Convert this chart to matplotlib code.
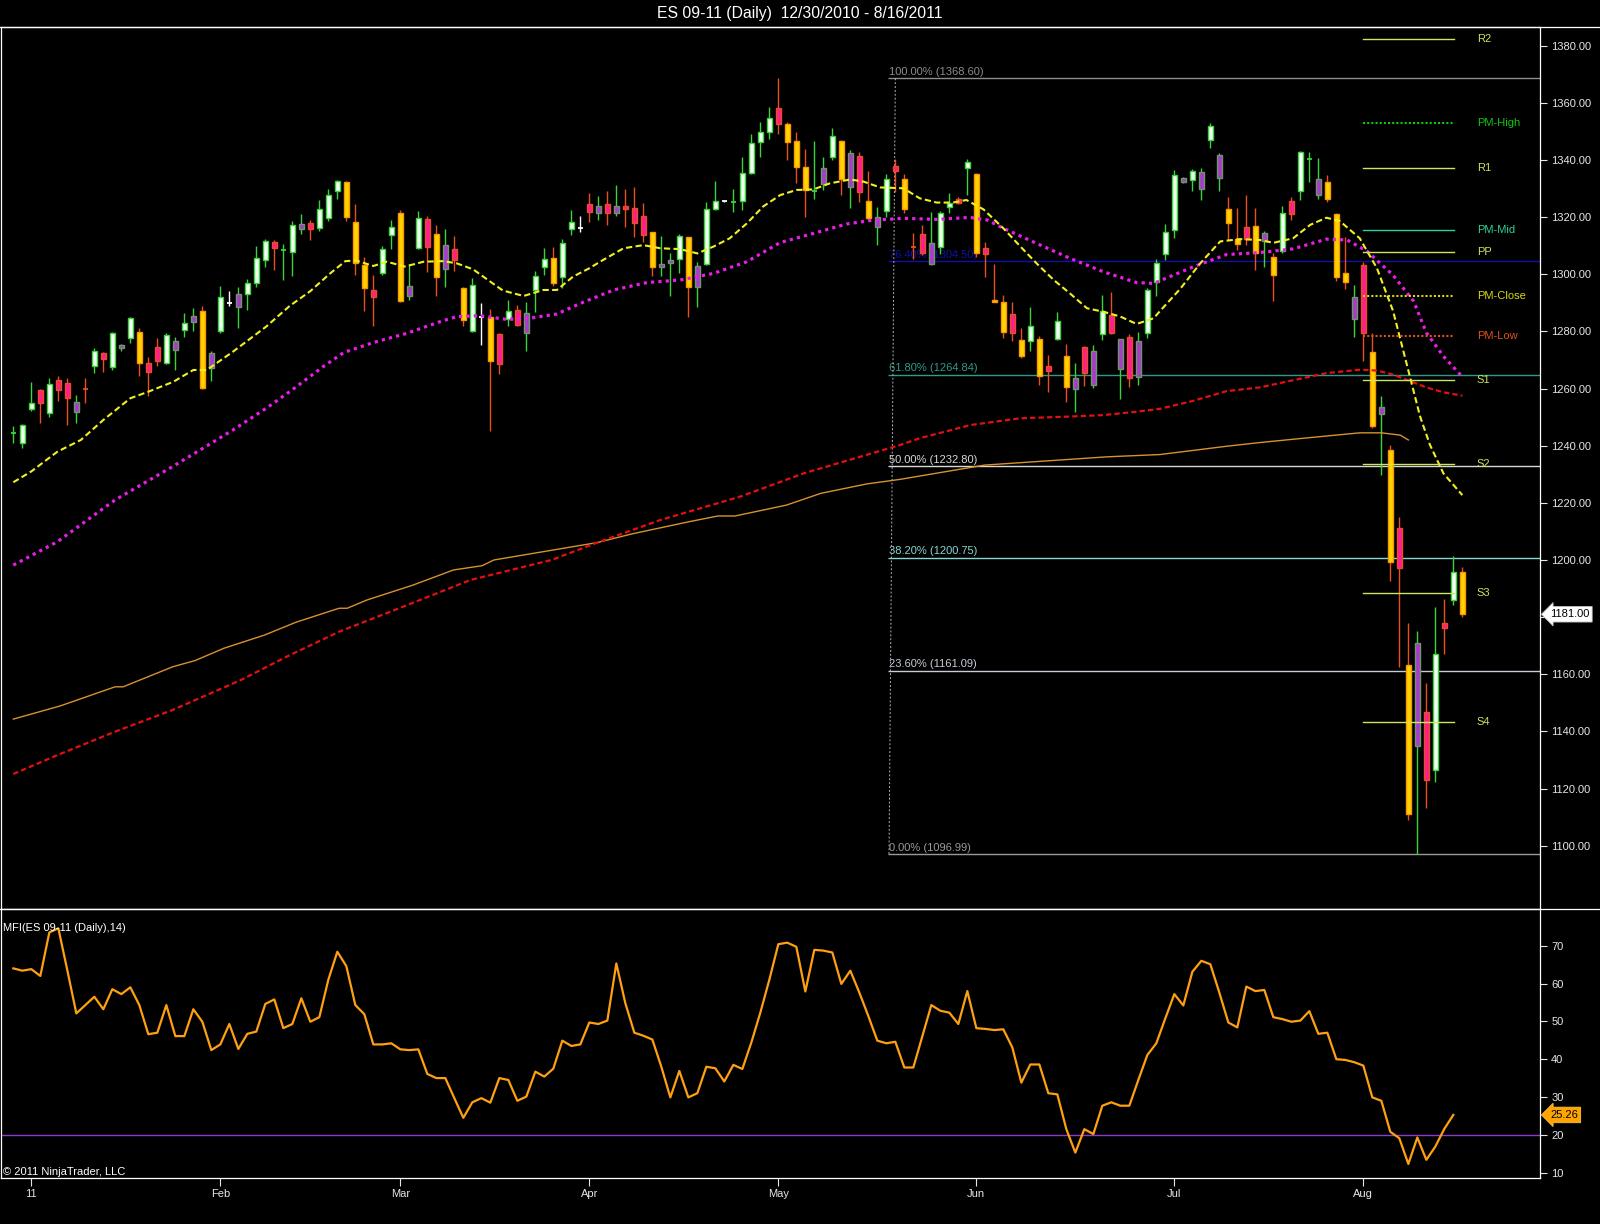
import matplotlib
matplotlib.use('Agg')
import matplotlib.pyplot as plt
from matplotlib.lines import Line2D
import numpy as np

plt.rcParams['font.family'] = ['Liberation Sans', 'DejaVu Sans']

title = 'ES 09-11 (Daily)  12/30/2010 - 8/16/2011'

# daily bars, 12/30/2010 .. 8/16/2011 (one entry per bar)
opens = [1244.3, 1240.8, 1253.0, 1259.5, 1251.6, 1263.0, 1261.8, 1251.9, 1259.8, 1267.9,
         1272.3, 1267.7, 1274.1, 1277.6, 1279.9, 1268.8, 1274.7, 1268.8, 1273.5, 1280.5,
         1283.2, 1287.3, 1267.1, 1280.3, 1289.8, 1288.4, 1293.0, 1297.1, 1305.0, 1311.4,
         1308.5, 1307.9, 1315.7, 1318.1, 1316.1, 1319.8, 1329.3, 1332.4, 1318.2, 1303.2,
         1294.5, 1300.3, 1313.6, 1321.3, 1292.5, 1309.3, 1319.2, 1314.1, 1301.7, 1308.7,
         1295.3, 1280.1, 1285.2, 1284.9, 1279.1, 1284.2, 1287.5, 1279.3, 1294.5, 1302.4,
         1305.8, 1298.9, 1315.7, 1316.3, 1324.6, 1321.6, 1324.6, 1321.6, 1324.0, 1323.1,
         1320.4, 1314.7, 1302.7, 1303.8, 1305.2, 1312.9, 1295.4, 1303.5, 1322.8, 1325.6,
         1325.4, 1325.6, 1335.6, 1346.2, 1349.7, 1358.1, 1352.5, 1346.6, 1337.7, 1329.3,
         1331.5, 1341.2, 1346.6, 1330.4, 1341.4, 1325.6, 1316.4, 1322.1, 1337.9, 1333.2,
         1309.4, 1314.0, 1303.6, 1309.4, 1323.4, 1326.4, 1337.1, 1335.0, 1309.1, 1290.9,
         1290.2, 1286.1, 1277.0, 1276.8, 1277.2, 1267.9, 1277.3, 1271.5, 1259.7, 1274.4,
         1261.2, 1279.1, 1285.7, 1266.7, 1277.9, 1263.9, 1279.3, 1297.4, 1307.0, 1315.6,
         1332.4, 1332.9, 1329.9, 1346.9, 1333.6, 1322.7, 1312.3, 1316.5, 1316.8, 1311.8,
         1306.1, 1308.1, 1325.7, 1329.0, 1340.4, 1327.7, 1332.4, 1321.0, 1300.6, 1284.2,
         1303.1, 1272.9, 1251.2, 1238.6, 1211.3, 1163.3, 1134.8, 1146.9, 1126.4, 1177.9,
         1185.9, 1195.9]
highs = [1246.9, 1247.5, 1262.4, 1259.7, 1263.6, 1264.4, 1263.6, 1257.7, 1263.6, 1274.1,
         1272.9, 1279.9, 1275.6, 1285.2, 1281.1, 1271.2, 1277.6, 1279.3, 1278.1, 1286.6,
         1288.1, 1289.0, 1273.3, 1295.9, 1294.1, 1295.4, 1298.3, 1309.9, 1312.2, 1312.0,
         1310.6, 1318.6, 1321.1, 1319.0, 1326.0, 1329.7, 1333.0, 1332.8, 1324.6, 1306.2,
         1299.7, 1309.9, 1319.0, 1322.5, 1303.6, 1322.3, 1320.4, 1317.2, 1315.7, 1313.4,
         1295.7, 1298.6, 1289.8, 1287.7, 1279.6, 1291.0, 1289.2, 1290.4, 1301.3, 1309.1,
         1309.6, 1312.2, 1322.5, 1320.4, 1328.3, 1327.4, 1329.1, 1331.2, 1329.7, 1330.7,
         1324.8, 1314.9, 1313.4, 1307.6, 1314.1, 1313.2, 1304.4, 1325.2, 1332.8, 1325.8,
         1329.7, 1340.9, 1349.1, 1353.2, 1358.7, 1368.6, 1353.2, 1349.7, 1343.7, 1346.6,
         1340.9, 1351.1, 1347.0, 1343.5, 1342.9, 1336.1, 1323.7, 1335.0, 1340.2, 1335.1,
         1314.3, 1317.2, 1321.9, 1322.3, 1328.3, 1327.2, 1340.2, 1335.6, 1311.4, 1303.6,
         1292.7, 1290.2, 1281.1, 1288.7, 1278.5, 1271.7, 1286.9, 1275.6, 1269.0, 1274.9,
         1275.2, 1292.7, 1293.7, 1277.3, 1279.1, 1279.9, 1295.1, 1305.2, 1317.6, 1336.6,
         1334.1, 1336.9, 1337.1, 1352.8, 1342.4, 1327.0, 1323.2, 1327.7, 1323.2, 1315.3,
         1307.3, 1324.0, 1326.9, 1343.3, 1342.8, 1340.7, 1334.9, 1321.5, 1313.1, 1296.4,
         1304.3, 1279.6, 1257.5, 1240.3, 1214.9, 1177.8, 1175.0, 1156.9, 1183.4, 1186.4,
         1201.5, 1197.6]
lows = [1240.9, 1239.1, 1252.3, 1247.8, 1250.2, 1255.8, 1247.2, 1247.8, 1255.1, 1265.6,
        1265.9, 1266.5, 1273.3, 1276.1, 1264.4, 1257.4, 1268.0, 1268.6, 1266.5, 1277.9,
        1280.3, 1259.7, 1262.8, 1279.3, 1289.0, 1281.1, 1287.5, 1295.7, 1302.7, 1301.5,
        1298.0, 1299.4, 1314.1, 1312.0, 1315.3, 1318.8, 1326.2, 1318.8, 1299.7, 1287.3,
        1282.0, 1299.7, 1309.0, 1290.3, 1291.0, 1308.7, 1300.9, 1292.4, 1295.7, 1301.3,
        1282.0, 1279.9, 1275.2, 1245.2, 1265.1, 1281.9, 1281.9, 1273.3, 1286.9, 1299.7,
        1295.9, 1295.1, 1313.7, 1314.9, 1318.4, 1319.0, 1317.2, 1320.4, 1316.7, 1313.2,
        1311.4, 1299.4, 1299.4, 1292.4, 1300.3, 1284.9, 1288.4, 1303.2, 1322.5, 1325.4,
        1321.9, 1322.5, 1335.0, 1340.9, 1347.3, 1349.1, 1340.0, 1331.8, 1319.9, 1326.2,
        1329.5, 1340.0, 1327.7, 1323.3, 1325.4, 1319.0, 1310.2, 1319.9, 1328.9, 1321.6,
        1305.2, 1306.7, 1303.2, 1307.1, 1321.6, 1324.6, 1327.7, 1305.9, 1298.9, 1290.2,
        1277.6, 1276.8, 1270.6, 1273.2, 1261.2, 1258.9, 1277.0, 1255.4, 1251.9, 1260.9,
        1260.1, 1277.0, 1279.1, 1256.2, 1260.7, 1261.2, 1277.6, 1292.5, 1305.0, 1312.6,
        1332.0, 1329.0, 1326.0, 1344.1, 1329.0, 1311.9, 1308.6, 1310.3, 1301.4, 1302.6,
        1290.5, 1307.3, 1319.0, 1326.0, 1332.4, 1326.5, 1325.3, 1297.6, 1295.0, 1278.0,
        1269.6, 1246.2, 1229.9, 1192.6, 1162.5, 1108.9, 1097.0, 1113.1, 1122.3, 1167.1,
        1184.2, 1180.0]
closes = [1244.3, 1247.2, 1255.1, 1255.1, 1261.6, 1259.5, 1256.8, 1255.2, 1259.8, 1273.3,
          1270.5, 1279.6, 1275.2, 1284.8, 1268.8, 1265.9, 1269.8, 1278.7, 1276.8, 1283.1,
          1285.5, 1260.1, 1272.3, 1291.9, 1289.8, 1293.0, 1297.1, 1305.6, 1311.6, 1309.1,
          1308.5, 1317.2, 1317.6, 1315.8, 1322.7, 1327.6, 1332.8, 1319.9, 1303.8, 1295.1,
          1291.9, 1308.7, 1316.4, 1290.8, 1295.9, 1319.6, 1309.7, 1298.9, 1310.2, 1305.0,
          1284.0, 1296.2, 1285.2, 1269.8, 1268.6, 1287.3, 1282.2, 1286.6, 1299.5, 1305.2,
          1296.8, 1310.8, 1318.2, 1316.3, 1321.9, 1323.9, 1321.6, 1323.9, 1323.0, 1318.1,
          1313.7, 1302.7, 1303.6, 1305.0, 1313.4, 1295.4, 1303.0, 1322.7, 1325.5, 1325.6,
          1325.4, 1335.6, 1345.8, 1349.7, 1354.6, 1352.5, 1346.4, 1337.7, 1329.5, 1329.3,
          1337.1, 1348.4, 1333.2, 1342.3, 1328.9, 1319.8, 1319.9, 1333.2, 1336.2, 1322.9,
          1309.4, 1307.5, 1311.1, 1321.3, 1325.1, 1325.1, 1339.2, 1307.5, 1307.1, 1290.2,
          1279.7, 1279.3, 1271.5, 1282.0, 1264.4, 1266.3, 1283.7, 1260.4, 1263.6, 1265.3,
          1273.1, 1287.1, 1279.3, 1277.2, 1263.6, 1276.8, 1294.5, 1303.8, 1314.7, 1334.9,
          1333.6, 1336.1, 1335.7, 1352.0, 1341.6, 1318.1, 1310.6, 1312.3, 1307.3, 1314.3,
          1299.7, 1321.5, 1321.2, 1342.8, 1340.4, 1333.2, 1326.2, 1299.2, 1297.2, 1292.2,
          1279.3, 1247.0, 1253.7, 1199.3, 1197.1, 1111.1, 1170.8, 1123.1, 1167.1, 1176.3,
          1195.9, 1181.0]
# bar colour class: W white-up, P purple-up, M magenta-down, Y gold-down, G/R/D doji
kinds = list('GWWMWMMPRW' 'MWPWYMMWPW' 'PYPWDPWWWM' 'GWPMWWWYYY' 'MWWYPWMYPM'
             'YWDYMWMPWW' 'YWWDMPMPMM' 'MYPPWYPWWD' 'GWWWWMYYYG' 'PWYPMYPWMY'
             'RMPWWMWYMY' 'YMYWYMWYPM' 'PWMPMPWWWW' 'PWPWPYYMYP' 'YWMWGPYYYP'
             'MYPYMYPMWM' 'WY')

mfi = [64.0, 63.4, 63.8, 62.0, 73.5, 74.6, 63.5, 52.1, 54.3, 56.5,
       53.2, 58.5, 57.2, 59.0, 54.3, 46.6, 47.0, 54.3, 46.1, 46.1,
       53.2, 49.9, 42.4, 43.9, 49.3, 42.7, 46.7, 47.3, 54.6, 55.8,
       48.2, 49.3, 56.1, 49.9, 51.1, 61.0, 68.4, 64.6, 54.3, 51.9,
       43.9, 43.9, 44.2, 42.6, 42.4, 42.6, 36.1, 35.0, 35.0, 29.7,
       24.5, 28.6, 29.7, 28.5, 35.0, 34.5, 29.0, 30.1, 36.7, 35.4,
       37.5, 44.9, 43.5, 43.9, 49.7, 49.3, 50.2, 65.3, 54.8, 47.0,
       46.2, 45.2, 38.0, 29.9, 36.9, 29.9, 31.0, 38.0, 37.6, 34.1,
       38.5, 37.4, 44.4, 52.3, 61.0, 70.4, 70.8, 69.7, 57.9, 68.9,
       68.7, 68.2, 59.9, 63.4, 57.6, 51.4, 44.9, 44.2, 44.6, 37.8,
       37.8, 46.0, 54.3, 52.8, 52.3, 49.3, 58.0, 48.2, 48.0, 47.7,
       47.9, 43.1, 33.8, 38.6, 38.6, 31.0, 30.7, 21.5, 15.3, 21.5,
       20.2, 27.7, 28.6, 27.7, 27.7, 34.5, 41.1, 44.2, 50.8, 57.2,
       54.2, 63.1, 66.0, 65.1, 57.6, 49.7, 48.4, 59.2, 58.0, 58.3,
       51.1, 50.6, 49.9, 50.2, 52.7, 46.7, 47.0, 40.0, 39.8, 39.2,
       38.3, 29.9, 29.0, 20.8, 19.1, 12.3, 19.3, 13.4, 16.9, 21.6,
       25.26]
mfi_last = 25.26
last_price = 1181.00

month_labels = ['11', 'Feb', 'Mar', 'Apr', 'May', 'Jun', 'Jul', 'Aug']
month_bars = [2, 23, 43, 64, 85, 107, 129, 150]

# moving averages at bar positions
fast_x = [0, 2, 4.9, 7.5, 10, 13, 15, 17.8, 20, 21.5, 24.4, 28.1, 30.7, 33, 35.2, 36.9,
          38.1, 40, 41.5, 43.5, 45.6, 47.8, 49.3, 51.1, 53, 54.4, 56.7, 58.9, 60.4, 62.2,
          64, 65.2, 67.8, 70, 71.9, 74.1, 76, 77.8, 79.6, 81.5, 83.3, 85.2, 87, 88.9, 90.7,
          93, 94.5, 96.3, 98.9, 100.7, 102.6, 104.4, 105.9, 107.8, 110, 111.9, 113.7,
          115.6, 117.4, 119.3, 121.1, 123, 124.8, 126.7, 127.6, 129.6, 131.9, 134.1,
          136.3, 138.5, 140, 142.2, 144.1, 145.9, 147.4, 149.6, 151.5, 153.3, 154.8,
          156.3, 157.4, 158.9, 161]
fast_y = [1227.2, 1231.0, 1237.9, 1242.0, 1249.0, 1256.6, 1258.9, 1262.4, 1266.5, 1266.5,
          1272.9, 1281.7, 1288.9, 1294.1, 1300.3, 1304.6, 1304.8, 1302.9, 1304.4, 1302.7,
          1304.4, 1304.6, 1303.8, 1301.7, 1297.4, 1294.3, 1292.4, 1294.5, 1294.5, 1299.2,
          1302.1, 1304.4, 1309.1, 1310.2, 1309.1, 1308.8, 1307.3, 1309.7, 1312.6, 1317.8,
          1323.7, 1327.7, 1329.5, 1329.7, 1331.8, 1333.2, 1332.4, 1330.4, 1330.1, 1326.6,
          1325.1, 1325.1, 1326.0, 1322.7, 1316.1, 1309.7, 1303.8, 1298.0, 1293.3, 1288.1,
          1286.9, 1285.2, 1282.6, 1284.6, 1287.8, 1294.7, 1303.9, 1311.5, 1312.3, 1312.0,
          1311.0, 1312.6, 1317.3, 1319.8, 1318.6, 1312.6, 1302.2, 1287.2, 1268.8, 1250.3,
          1240.3, 1230.3, 1222.7]
mid_x = [0, 4.9, 11.3, 17.7, 20.7, 24.4, 28.1, 30.7, 34.4, 36.7, 40, 43.7, 47.4, 49.3,
         51.9, 54.8, 57.4, 60.4, 63, 66.7, 70.4, 74.1, 77.8, 81.5, 85.2, 88.9, 92.6, 95.2,
         98.9, 102.6, 106.3, 108.2, 110, 113.7, 117.4, 121.1, 124.8, 126.7, 131.1, 134.8,
         138.5, 142.2, 145.9, 148.2, 150.4, 153.3, 155.6, 157, 158.9, 161]
mid_y = [1198.2, 1206.4, 1221.0, 1232.7, 1238.4, 1245.5, 1253.1, 1258.9, 1267.6, 1272.6,
         1276.1, 1279.3, 1283.4, 1285.2, 1285.5, 1284.2, 1284.6, 1286.1, 1289.8, 1294.5,
         1297.1, 1298.0, 1300.3, 1304.4, 1311.1, 1314.3, 1317.6, 1318.8, 1319.6, 1319.2,
         1319.9, 1319.0, 1316.1, 1310.8, 1305.6, 1300.9, 1297.1, 1296.8, 1302.6, 1306.9,
         1307.6, 1308.9, 1312.3, 1312.0, 1308.1, 1299.7, 1290.5, 1279.6, 1271.3, 1264.1]
slow_x = [0, 4.9, 11.3, 17.7, 25.3, 30.4, 36.2, 41.9, 50.8, 59.8, 64.9, 71.9, 80.8, 87.8,
          98.5, 100.7, 106.3, 111.9, 117.4, 121.1, 124.8, 127.4, 131.1, 134.8, 138.5,
          142.2, 145.9, 149.6, 151.5, 153.3, 155.2, 157, 158.9, 161]
slow_y = [1125.1, 1131.7, 1139.9, 1147.5, 1158.0, 1166.2, 1174.9, 1181.9, 1193.0, 1200.0,
          1206.1, 1214.0, 1222.2, 1230.3, 1240.2, 1242.6, 1247.2, 1249.6, 1250.2, 1250.7,
          1251.9, 1252.9, 1255.7, 1259.1, 1260.4, 1262.9, 1265.4, 1266.6, 1266.3, 1264.9,
          1262.6, 1260.4, 1258.7, 1257.5]
long_x = [0, 5.2, 11.3, 12.2, 17.7, 20.2, 23.4, 27.9, 31.4, 36.2, 37.1, 39.3, 44.4, 48.9,
          52.1, 53.4, 58.5, 64.9, 68.7, 75.1, 78.3, 80.2, 85.9, 89.7, 94.8, 98.5, 107.9,
          121.5, 127.4, 134.8, 138.5, 143, 149.6, 152, 154.1, 155]
long_y = [1144.3, 1148.9, 1155.6, 1155.6, 1162.6, 1164.8, 1169.1, 1173.7, 1178.2, 1183.1,
          1183.1, 1186.0, 1191.2, 1196.5, 1198.0, 1200.0, 1202.7, 1206.1, 1209.1, 1213.4,
          1215.4, 1215.4, 1219.2, 1223.3, 1226.6, 1228.2, 1233.2, 1236.1, 1236.9, 1239.8,
          1241.1, 1242.5, 1244.5, 1244.5, 1243.7, 1242.0]

fib_pct = ['100.00%', '76.40%', '61.80%', '50.00%', '38.20%', '23.60%', '0.00%']
fib_val = [1368.60, 1304.50, 1264.84, 1232.80, 1200.75, 1161.09, 1096.99]
fib_col = ['#8c8c8c', '#1010a8', '#2f9a8c', '#d8d8d8', '#86d6d2', '#c8ccd8', '#9a9a9a']

pivot_names = ['R2', 'PM-High', 'R1', 'PM-Mid', 'PP', 'PM-Close', 'PM-Low',
               'S1', 'S2', 'S3', 'S4']
pivot_vals = [1382.2, 1352.8, 1337.1, 1315.5, 1307.7, 1292.4, 1278.4,
              1263.0, 1233.6, 1188.3, 1143.4]
pivot_cols = ['#c8e660', '#10c810', '#c8e660', '#30d29a', '#c8e660', '#d8d810', '#e0501a',
              '#c8e660', '#c8e660', '#c8e660', '#c8e660']
pivot_dotted = ['PM-High', 'PM-Close', 'PM-Low']

W, H = 1600, 1224
fig = plt.figure(figsize=(W / 100, H / 100), dpi=100, facecolor='black')
ax = fig.add_axes([1 / W, 1 - 909 / H, 1539 / W, (909 - 27) / H], facecolor='black')
ax2 = fig.add_axes([1 / W, 1 - 1178 / H, 1539 / W, (1178 - 909) / H], facecolor='black',
                   sharex=ax)

n = len(closes)
xs = np.arange(n)

body_fc = {'W': '#f2fff2', 'P': '#a83cc8', 'M': '#ff1e8e', 'Y': '#ffd400'}
body_ec = {'W': '#3cd23c', 'P': '#6e966e', 'M': '#e8501e', 'Y': '#ff9600'}
wick_c = {'W': '#3cd23c', 'P': '#3cd23c', 'G': '#3cd23c',
          'M': '#e8501e', 'Y': '#e8501e', 'R': '#e8501e', 'D': '#ffffff'}

# fib levels under the bars
ax.hlines(fib_val, 97.17, 170, colors=fib_col, lw=1, zorder=1)
for p, v, c in zip(fib_pct, fib_val, fib_col):
    ax.text(97.3, v + 0.6, '%s (%.2f)' % (p, v), color=c, fontsize=8,
            ha='left', va='bottom', zorder=1)
ax.plot([98.0, 97.3], [fib_val[0], fib_val[-1]], color='#b4b4b4', lw=0.7,
        ls=(0, (2, 2)), zorder=1)

# candles
ax.vlines(xs, lows, highs, colors=[wick_c[k] for k in kinds], lw=1, zorder=3)
for i in range(n):
    k = kinds[i]
    if k in 'GRD':
        ax.hlines(closes[i], i - 0.3, i + 0.3, colors=wick_c[k], lw=1.3, zorder=4)
    else:
        lo = min(opens[i], closes[i])
        hi = max(opens[i], closes[i])
        ax.bar(i, max(hi - lo, 0.3), bottom=lo, width=0.5, color=body_fc[k],
               edgecolor=body_ec[k], linewidth=1, zorder=4)

# moving averages over the bars
ax.plot(long_x, long_y, color='#d8922e', lw=1, zorder=5)
ax.plot(slow_x, slow_y, color='#e41010', lw=1.6, ls=(0, (2.4, 1.4)), zorder=5)
ax.plot(mid_x, mid_y, color='#e81ee8', lw=2.3, ls=(0, (1, 1.3)), zorder=5)
ax.plot(fast_x, fast_y, color='#f0f020', lw=1.5, ls=(0, (3, 1.6)), zorder=6)

# pivot levels
for name, v, c in zip(pivot_names, pivot_vals, pivot_cols):
    ls = (0, (1, 1)) if name in pivot_dotted else '-'
    lw = 1.5 if name in pivot_dotted else 1
    ax.plot([150, 160.05], [v, v], color=c, lw=lw, ls=ls, zorder=6)
    ax.text(162.6, v, name, color=c, fontsize=8, ha='left', va='center', zorder=6)

ax.set_xlim(-1.37, 169.63)
ax.set_ylim(1077.83, 1386.55)
ax.yaxis.tick_right()
price_ticks = np.arange(1100, 1381, 20)
ax.set_yticks(price_ticks)
# the 1180 label sits under the last-price marker, as in the original
ax.set_yticklabels(['' if abs(t - last_price) < 8 else '%.2f' % t for t in price_ticks])
ax.tick_params(axis='y', colors='#e6e6e6', labelsize=8, length=5, width=0.8, pad=3)
ax.tick_params(axis='x', bottom=False, labelbottom=False)

ax.annotate('%.2f' % last_price, xy=(1, last_price), xycoords=('axes fraction', 'data'),
            xytext=(10, 0), textcoords='offset pixels', ha='left', va='center',
            fontsize=8, color='black', annotation_clip=False, zorder=10,
            bbox=dict(boxstyle='larrow,pad=0.25', fc='white', ec='#c0c0c0', lw=0.6))

# MFI panel
ax2.plot(np.arange(len(mfi)), mfi, color='#ffa010', lw=1.6, zorder=3)
ax2.axhline(20, color='#8a3ccc', lw=1, zorder=2)
ax2.set_ylim(8.59, 79.7)
ax2.yaxis.tick_right()
ax2.set_yticks(np.arange(10, 71, 10))
ax2.tick_params(axis='y', colors='#e6e6e6', labelsize=8, length=5, width=0.8, pad=3)
ax2.set_xticks(month_bars)
ax2.set_xticklabels(month_labels)
ax2.tick_params(axis='x', colors='#e6e6e6', labelsize=8, length=6, width=0.8, pad=2)
ax2.annotate('%.2f' % mfi_last, xy=(1, mfi_last), xycoords=('axes fraction', 'data'),
             xytext=(10, 0), textcoords='offset pixels', ha='left', va='center',
             fontsize=8, color='black', annotation_clip=False, zorder=10,
             bbox=dict(boxstyle='larrow,pad=0.25', fc='#ffa500', ec='#ffc040', lw=0.6))

for a in (ax, ax2):
    for s in a.spines.values():
        s.set_color('white')
        s.set_linewidth(0.9)

# full-width separators
for yy in (27, 909):
    fig.add_artist(Line2D([0, 1], [1 - yy / H, 1 - yy / H], color='white', lw=0.9))

fig.text(0.5, 1 - 13.5 / H, title, color='white', fontsize=11.3, ha='center', va='center')
fig.text(3 / W, 1 - 927.7 / H, 'MFI(ES 09-11 (Daily),14)', color='white', fontsize=8,
         ha='left', va='center')
fig.text(3 / W, 1 - 1172.3 / H, '\u00a9 2011 NinjaTrader, LLC', color='white', fontsize=8,
         ha='left', va='center')

fig.savefig('out.png', dpi=100, facecolor='black')
